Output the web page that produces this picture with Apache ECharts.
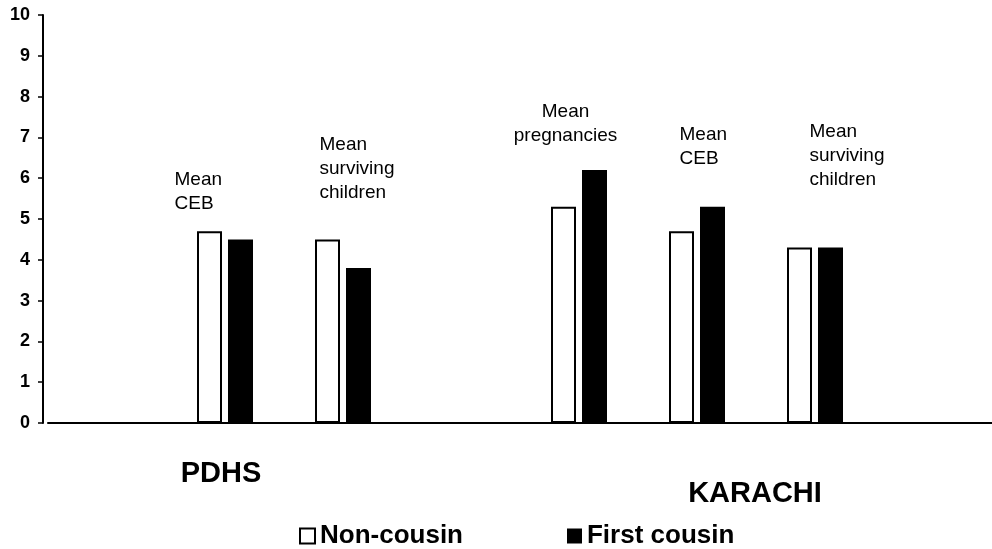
<!DOCTYPE html>
<html>
<head>
<meta charset="utf-8">
<script src="https://cdn.jsdelivr.net/npm/echarts@6/dist/echarts.min.js"></script>
<style>
  html, body { margin: 0; padding: 0; background: #fff; }
  #chart { width: 992px; height: 549px; }
</style>
</head>
<body>
<div id="chart"></div>
<script>
// slots along the x axis (empty ones keep the spacing of the original)
var categories = ['PDHS pregnancies', 'PDHS CEB', 'PDHS surviving', 'gap',
  'KARACHI pregnancies', 'KARACHI CEB', 'KARACHI surviving', 'end'];
var groupLabels = ['', 'PDHS', '', '', '', 'KARACHI', '', ''];
var nonCousin = [null, 4.7, 4.5, null, 5.3, 4.7, 4.3, null];
var firstCousin = [null, 4.5, 3.8, null, 6.2, 5.3, 4.3, null];
var yTicks = [0, 1, 2, 3, 4, 5, 6, 7, 8, 9, 10];

// text written above each pair of bars
var noteCats = ['PDHS CEB', 'PDHS surviving', 'KARACHI pregnancies', 'KARACHI CEB', 'KARACHI surviving'];
var noteTexts = ['Mean\nCEB', 'Mean\nsurviving\nchildren', 'Mean\npregnancies', 'Mean\nCEB', 'Mean\nsurviving\nchildren'];
// label placement relative to the top of the taller bar (px)
var noteOffsets = [[-35, -63], [-8, -107], [2, -70], [-2, -84], [10, -128]];
var noteAlign = ['left', 'left', 'center', 'left', 'left'];

var FONT = '"Liberation Sans", Arial, Helvetica, sans-serif';

var chart = echarts.init(document.getElementById('chart'));

var notes = noteCats.map(function (c, i) {
  var k = categories.indexOf(c);
  var top = Math.max(nonCousin[k], firstCousin[k]);
  return {
    coord: [c, top],
    value: noteTexts[i],
    label: {
      show: true,
      position: noteOffsets[i],
      align: noteAlign[i],
      verticalAlign: 'top',
      formatter: noteTexts[i],
      fontFamily: FONT,
      fontSize: 19,
      lineHeight: 24,
      color: '#000'
    }
  };
});

chart.setOption({
  animation: false,
  backgroundColor: '#fff',
  grid: {
    left: 48,
    top: 15,
    width: 946,
    bottom: 126,
    containLabel: false
  },
  legend: {
    left: 294,
    top: 518,
    itemWidth: 15,
    itemHeight: 15,
    itemGap: 104,
    textStyle: { fontFamily: FONT, fontSize: 26, fontWeight: 'bold', color: '#000' },
    data: [
      { name: 'Non-cousin', icon: 'rect', itemStyle: { color: '#fff', borderColor: '#000', borderWidth: 2 } },
      { name: 'First cousin', icon: 'rect', itemStyle: { color: '#000' } }
    ]
  },
  xAxis: {
    type: 'category',
    data: categories,
    axisLine: { lineStyle: { color: '#000', width: 2 } },
    axisTick: { show: false },
    axisLabel: {
      interval: 0,
      margin: 36,
      formatter: function (v, idx) {
        var t = groupLabels[idx];
        if (!t) return '';
        return idx < 4 ? '{a|' + t + '}' : '{b|' + t + '}';
      },
      rich: {
        a: { fontFamily: FONT, fontSize: 29, fontWeight: 'bold', color: '#000', padding: [0, 8, 0, 0] },
        b: { fontFamily: FONT, fontSize: 29, fontWeight: 'bold', color: '#000', padding: [20, 0, 0, 116] }
      }
    }
  },
  yAxis: {
    type: 'value',
    min: 0,
    max: 10,
    interval: 1,
    offset: 5,
    axisLine: { show: true, lineStyle: { color: '#000', width: 2 } },
    axisTick: { show: true, length: 5, lineStyle: { color: '#000', width: 1.5 } },
    splitLine: { show: false },
    axisLabel: {
      margin: 13,
      fontFamily: FONT,
      fontSize: 18,
      fontWeight: 'bold',
      color: '#000',
      formatter: function (v) { return yTicks.indexOf(v) >= 0 ? String(v) : ''; }
    }
  },
  series: [
    {
      name: 'Non-cousin',
      type: 'bar',
      data: nonCousin,
      barWidth: 25,
      barGap: '24%',
      itemStyle: { color: '#fff', borderColor: '#000', borderWidth: 2 },
      markPoint: {
        symbol: 'rect',
        symbolSize: 0,
        itemStyle: { color: 'transparent' },
        data: notes
      }
    },
    {
      name: 'First cousin',
      type: 'bar',
      data: firstCousin,
      barWidth: 25,
      itemStyle: { color: '#000' }
    }
  ]
});
</script>
</body>
</html>
